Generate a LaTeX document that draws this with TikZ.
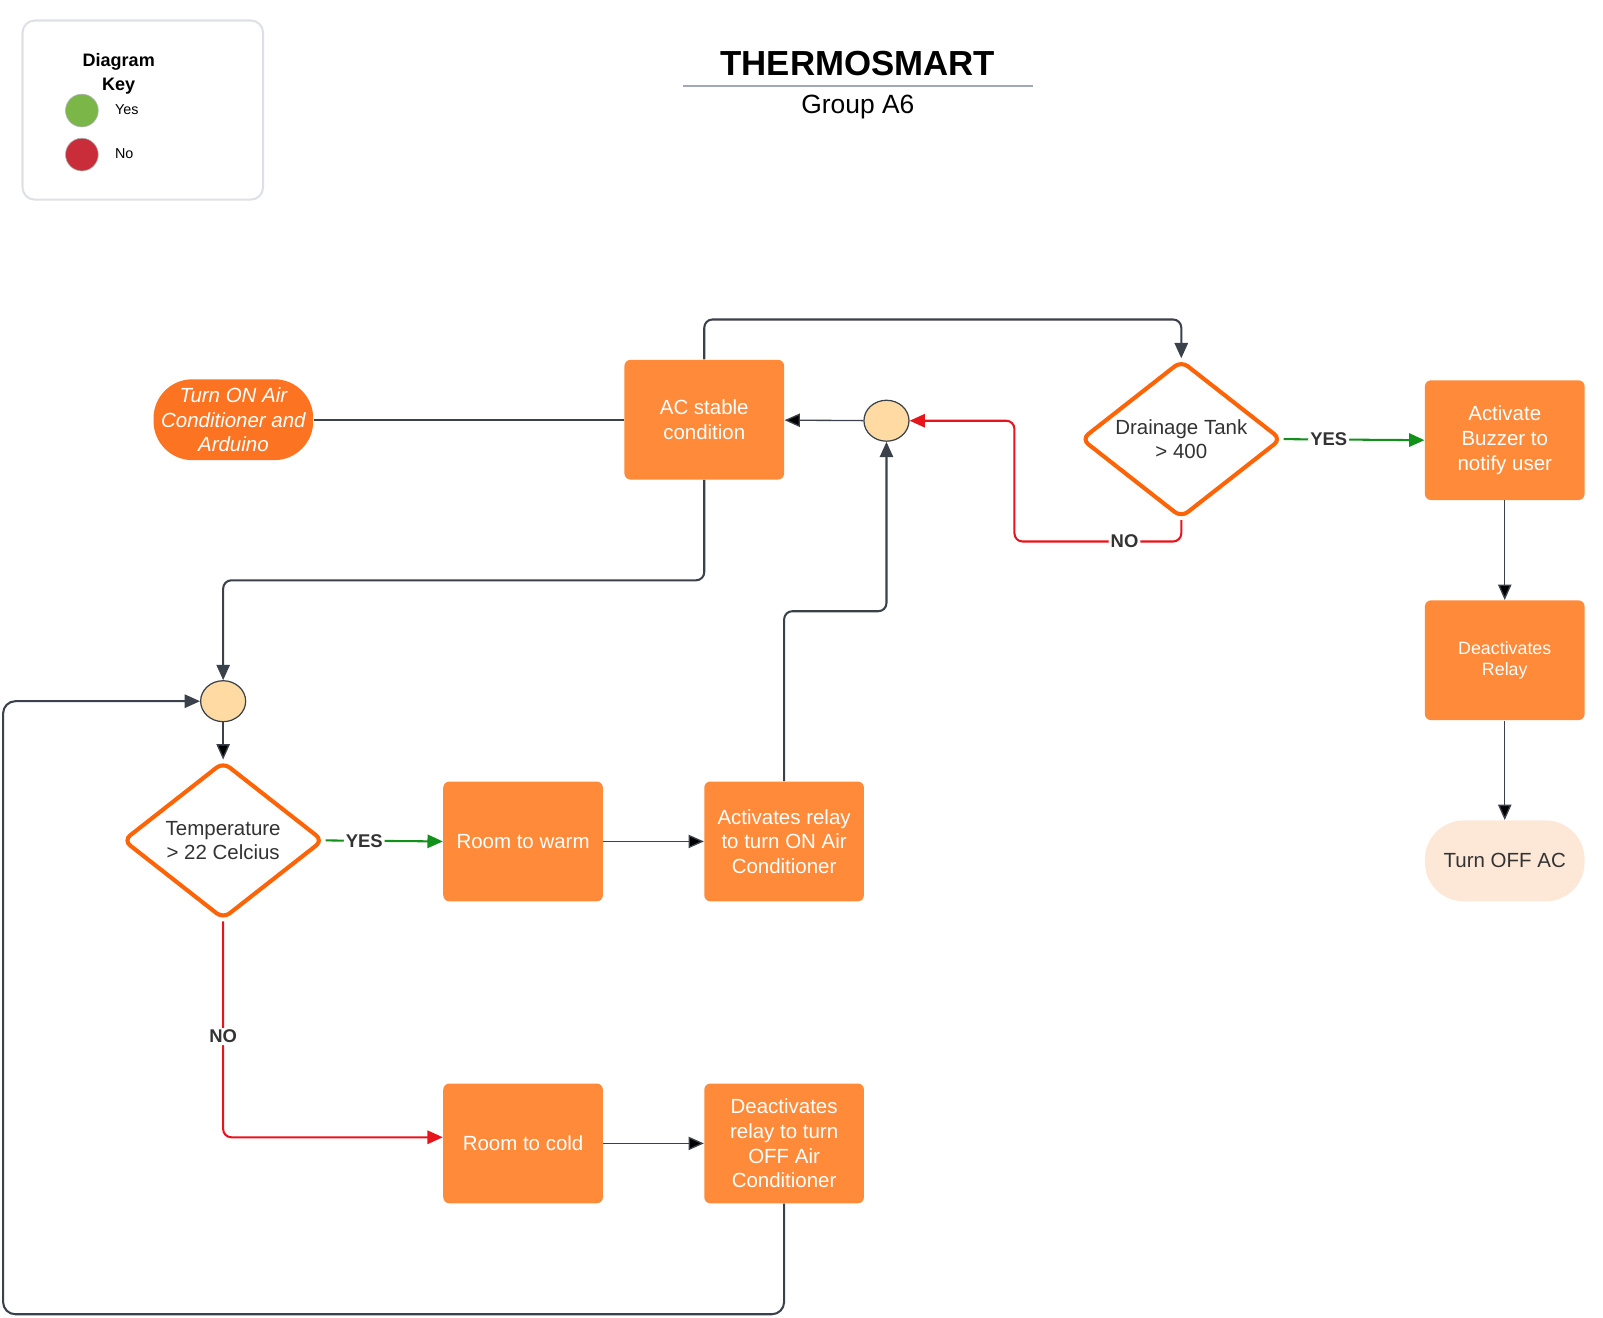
\documentclass[tikz,border=0pt]{standalone}
\usepackage{fontspec}
\setmainfont{Liberation Sans}
\usetikzlibrary{shapes.geometric,arrows.meta}

\definecolor{boxorange}{HTML}{FE8A3A}
\definecolor{startorange}{HTML}{FC7422}
\definecolor{edgeorange}{HTML}{FD6408}
\definecolor{linegray}{HTML}{3A414A}
\definecolor{junctionfill}{HTML}{FFDBA3}
\definecolor{endfill}{HTML}{FDE8D8}
\definecolor{textgray}{HTML}{333333}
\definecolor{yesgreen}{HTML}{11901A}
\definecolor{nored}{HTML}{E8141B}
\definecolor{keygreen}{HTML}{7AB648}
\definecolor{keyred}{HTML}{C92D39}
\definecolor{keyborder}{HTML}{DDE0E5}
\definecolor{rulegray}{HTML}{A0A9B5}

\newcommand{\boxfont}{\fontsize{10}{12}\selectfont}

\begin{document}
\begin{tikzpicture}[x=0.5pt,y=-0.5pt,
    box/.style={rectangle,rounded corners=3pt,fill=boxorange,text=white,minimum width=78pt,minimum height=58.5pt,align=center,font=\boxfont},
    decision/.style={diamond,shape aspect=1.27,draw=edgeorange,line width=2pt,fill=white,rounded corners=4pt,minimum width=98pt,minimum height=77pt,inner sep=0pt,align=center,text=textgray,font=\boxfont},
    junction/.style={ellipse,draw=linegray,line width=0.6pt,fill=junctionfill,minimum width=22pt,minimum height=20pt,inner sep=0pt},
    terminal/.style={rectangle,rounded corners=19pt,minimum width=78pt,minimum height=39.5pt,inner sep=1pt,align=center,font=\boxfont},
    keydot/.style={circle,draw=black!30,line width=0.3pt,minimum size=16pt,inner sep=0pt},
    keytext/.style={font=\fontsize{7}{8}\selectfont,anchor=west,inner sep=0pt},
    lbl/.style={fill=white,inner sep=1pt,text=textgray,font=\bfseries\fontsize{9}{10}\selectfont},
    flow/.style={draw=linegray,line width=1pt,rounded corners=4pt,-{Triangle[length=7.5pt,width=6.5pt]}},
    thin flow/.style={flow,line width=0.65pt},
    yes flow/.style={flow,draw=yesgreen},
    no flow/.style={flow,draw=nored}]
    \useasboundingbox (0,0) rectangle (1566,1287);

    % diagram key
    \node[draw=keyborder,line width=1pt,rounded corners=6pt,minimum width=117.5pt,minimum height=87.5pt] at (139.5,107.5) (key) {};
    \node[align=center,font=\bfseries\fontsize{8.8}{11.5}\selectfont] at (116,72) (keytitle) {Diagram\\Key};
    \node[keydot,fill=keygreen] at (80,108) (keyyes) {};
    \node[keydot,fill=keyred] at (80,151) (keyno) {};
    \node[keytext] at (112,107) (keyyestext) {Yes};
    \node[keytext] at (112,150) (keynotext) {No};

    % title
    \node[font=\bfseries\fontsize{17}{20}\selectfont] at (838,62) (title) {THERMOSMART};
    \draw[rulegray,line width=0.75pt] (667,84) -- (1009,84);
    \node[font=\fontsize{12.9}{15}\selectfont] at (838,105) (group) {Group A6};

    % flow nodes
    \node[terminal,fill=startorange,text=white,font=\boxfont\itshape] at (228,410) (start) {Turn ON Air\\Conditioner and\\Arduino};
    \node[box] at (688,410) (ac) {AC stable\\condition};
    \node[junction] at (866,411) (j1) {};
    \node[decision] at (1154,429) (drain) {Drainage Tank\\> 400};
    \node[box] at (1470,430) (buzz) {Activate\\Buzzer to\\notify user};
    \node[box,font=\fontsize{8.7}{10.5}\selectfont] at (1470,645) (relay) {Deactivates\\Relay};
    \node[terminal,fill=endfill,text=textgray] at (1470,841) (acoff) {Turn OFF AC};
    \node[junction] at (218,685) (j2) {};
    \node[decision] at (218,821) (temp) {Temperature\\> 22 Celcius};
    \node[box] at (511,822) (warm) {Room to warm};
    \node[box] at (766,822) (relayon) {Activates relay\\to turn ON Air\\Conditioner};
    \node[box] at (511,1117) (cold) {Room to cold};
    \node[box] at (766,1117) (relayoff) {Deactivates\\relay to turn\\OFF Air\\Conditioner};
    \coordinate (loop) at (3,685);

    % connectors
    \draw[linegray,line width=1pt] (start.east) -- (ac.west);
    \draw[flow] (ac.north) -- ++(0,-39) -| (drain.north);
    \draw[flow] (ac.south) -- ++(0,98) -| (j2.north);
    \draw[flow] (relayon.north) -- ++(0,-166) -| (j1.south);
    \draw[flow,rounded corners=6pt] (relayoff.south) -- ++(0,108) -| (loop) -- (j2.west);
    \draw[no flow] (drain.south) -- ++(0,21) -- node[pos=0.34,lbl] {NO} ++(-163,0) |- (j1.east);
    \draw[yes flow] (drain.east) -- node[pos=0.32,lbl] {YES} (buzz.west);
    \draw[yes flow] (temp.east) -- node[pos=0.33,lbl] {YES} (warm.west);
    \draw[no flow] (temp.south) |- node[pos=0.267,lbl] {NO} ([yshift=3pt]cold.west);
    \path[thin flow]
        (j1) edge (ac)
        (j2) edge (temp)
        (warm) edge (relayon)
        (cold) edge (relayoff)
        (buzz) edge (relay)
        (relay) edge (acoff)
        ;
\end{tikzpicture}
\end{document}
